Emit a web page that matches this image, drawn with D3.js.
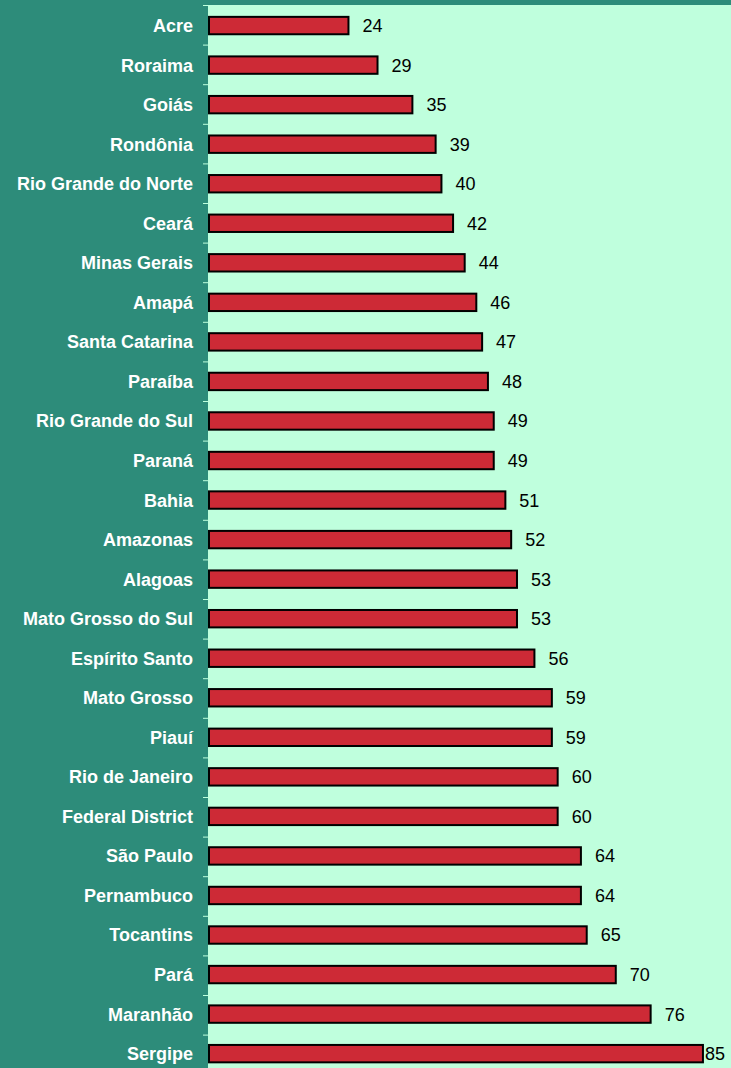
<!DOCTYPE html>
<html>
<head>
<meta charset="utf-8">
<script src="https://cdn.jsdelivr.net/npm/d3@7"></script>
<style>
  html, body { margin: 0; padding: 0; background: #2d8c7a; overflow: hidden; }
  svg { display: block; }
  text { font-family: "Liberation Sans", Arial, sans-serif; }
</style>
</head>
<body>
<div id="chart"></div>
<script>
// states, sorted as in the picture
var states = ["Acre", "Roraima", "Goiás", "Rondônia", "Rio Grande do Norte", "Ceará",
  "Minas Gerais", "Amapá", "Santa Catarina", "Paraíba", "Rio Grande do Sul", "Paraná",
  "Bahia", "Amazonas", "Alagoas", "Mato Grosso do Sul", "Espírito Santo", "Mato Grosso",
  "Piauí", "Rio de Janeiro", "Federal District", "São Paulo", "Pernambuco", "Tocantins",
  "Pará", "Maranhão", "Sergipe"];
var values = [24, 29, 35, 39, 40, 42, 44, 46, 47, 48, 49, 49, 51, 52, 53, 53, 56, 59, 59,
  60, 60, 64, 64, 65, 70, 76, 85];
var xMax = 90;

var width = 731, height = 1068;
var plotLeft = 208, plotTop = 5;
var step = 39.6;

var data = states.map(function(s, i){ return {name: s, v: values[i]}; });

var svg = d3.select("#chart").append("svg")
  .attr("width", width)
  .attr("height", height);

var x = d3.scaleLinear()
  .domain([0, xMax])
  .range([plotLeft + 1, width + 1]);

var y = d3.scaleBand()
  .domain(states)
  .range([plotTop, plotTop + step * states.length])
  .paddingInner(0.56)
  .paddingOuter(0.3);

// plot area
svg.append("rect")
  .attr("x", plotLeft)
  .attr("y", plotTop)
  .attr("width", width - plotLeft)
  .attr("height", height - plotTop)
  .attr("fill", "#bfffdd");

// boundary ticks on the left axis
var bounds = d3.range(states.length).map(function(i){ return plotTop + i * step; });
svg.selectAll("line.tick")
  .data(bounds)
  .enter().append("line")
  .attr("class", "tick")
  .attr("x1", plotLeft - 5)
  .attr("x2", plotLeft)
  .attr("y1", function(d){ return d + 0.5; })
  .attr("y2", function(d){ return d + 0.5; })
  .attr("stroke", "#bfffdd")
  .attr("stroke-width", 1);

// bars
svg.selectAll("rect.bar")
  .data(data)
  .enter().append("rect")
  .attr("class", "bar")
  .attr("x", x(0))
  .attr("y", function(d){ return y(d.name); })
  .attr("width", function(d){ return x(d.v) - x(0); })
  .attr("height", y.bandwidth())
  .attr("fill", "#cd2a36")
  .attr("stroke", "#000")
  .attr("stroke-width", 2);

// value labels (last one squeezed against the right edge)
svg.selectAll("text.val")
  .data(data)
  .enter().append("text")
  .attr("class", "val")
  .attr("x", function(d){ return Math.min(x(d.v) + 14, width - 26); })
  .attr("y", function(d){ return y(d.name) + y.bandwidth() / 2; })
  .attr("dy", "0.36em")
  .attr("font-size", 18)
  .attr("fill", "#000")
  .text(function(d){ return d.v; });

// state labels
svg.selectAll("text.name")
  .data(data)
  .enter().append("text")
  .attr("class", "name")
  .attr("x", 193)
  .attr("y", function(d){ return y(d.name) + y.bandwidth() / 2; })
  .attr("dy", "0.36em")
  .attr("text-anchor", "end")
  .attr("font-size", 18)
  .attr("font-weight", "bold")
  .attr("fill", "#fff")
  .text(function(d){ return d.name; });
</script>
</body>
</html>
